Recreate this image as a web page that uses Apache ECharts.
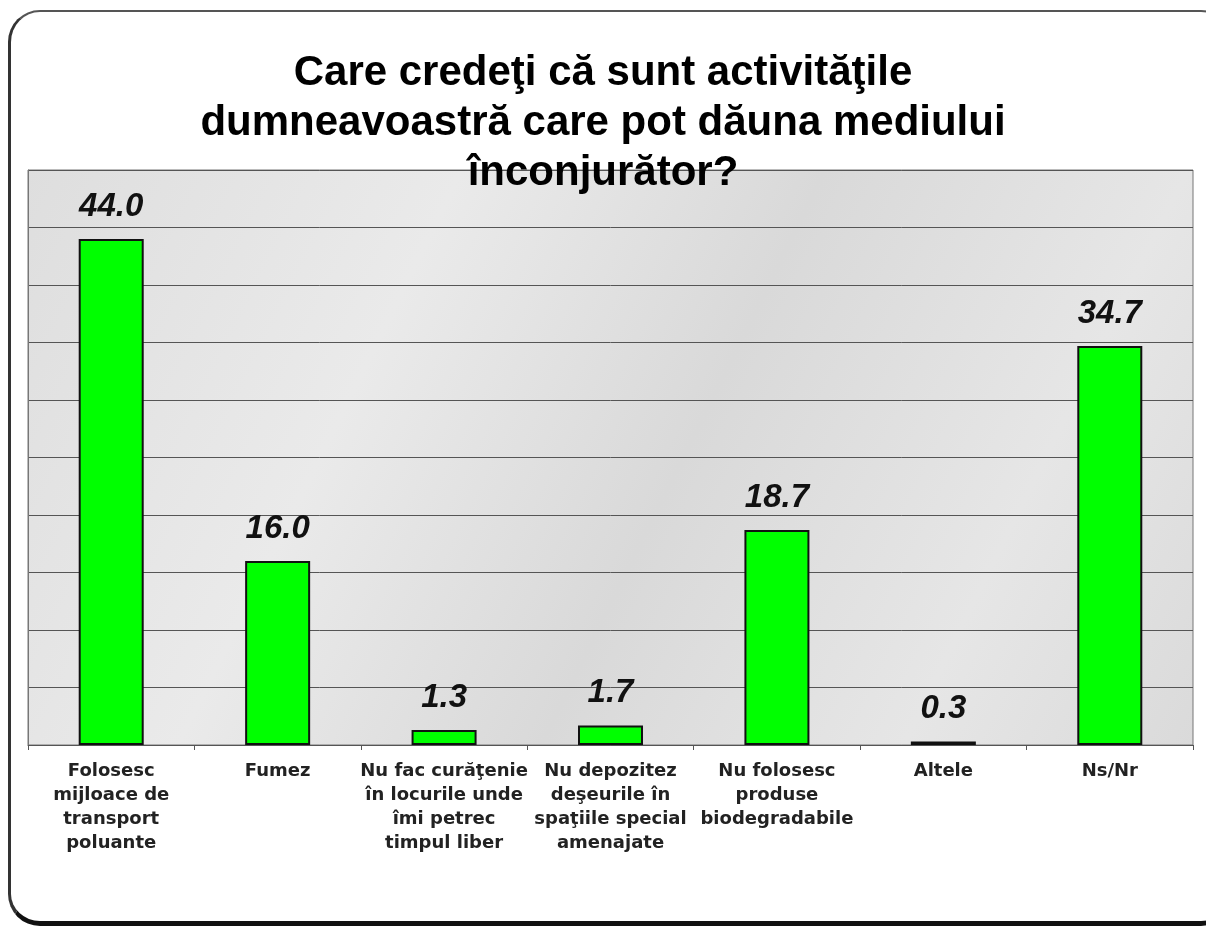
<!DOCTYPE html>
<html>
<head>
<meta charset="utf-8">
<script src="https://cdn.jsdelivr.net/npm/echarts@6/dist/echarts.min.js"></script>
<style>
  html, body { margin: 0; padding: 0; background: #fff; }
  #frame {
    position: absolute; left: 8px; top: 10px; width: 1220px; height: 909px;
    border: 2px solid #555; border-left: 3px solid #333; border-bottom: 5px solid #111;
    border-radius: 32px; background: #fff;
  }
  #chart { position: absolute; left: 0; top: 0; width: 1206px; height: 927px; }
</style>
</head>
<body>
<div id="frame"></div>
<div id="chart"></div>
<script>
// categorii si valori (%)
const categories = [
  'Folosesc\nmijloace de\ntransport\npoluante',
  'Fumez',
  'Nu fac curăţenie\nîn locurile unde\nîmi petrec\ntimpul liber',
  'Nu depozitez\ndeşeurile în\nspaţiile special\namenajate',
  'Nu folosesc\nproduse\nbiodegradabile',
  'Altele',
  'Ns/Nr'
];
const values = [44.0, 16.0, 1.3, 1.7, 18.7, 0.3, 34.7];
const titleText = 'Care credeţi că sunt activităţile\ndumneavoastră care pot dăuna mediului\nînconjurător?';

const chart = echarts.init(document.getElementById('chart'));
const option = {
  backgroundColor: 'transparent',
  title: {
    text: titleText,
    left: 'center',
    top: 43,
    textStyle: {
      fontFamily: 'Liberation Sans, Arial, sans-serif',
      fontSize: 42,
      fontWeight: 'bold',
      color: '#000',
      lineHeight: 50
    }
  },
  grid: {
    left: 28, right: 13, top: 170, bottom: 182,
    show: true,
    borderColor: '#777',
    borderWidth: 1,
    backgroundColor: new echarts.graphic.LinearGradient(0, 0, 1, 1, [
      {offset: 0, color: '#dedede'},
      {offset: 0.3, color: '#eaeaea'},
      {offset: 0.55, color: '#d9d9d9'},
      {offset: 0.8, color: '#e6e6e6'},
      {offset: 1, color: '#dadada'}
    ])
  },
  xAxis: {
    type: 'category',
    data: categories,
    axisLine: { lineStyle: { color: '#555', width: 1 } },
    axisTick: { show: true, length: 5, lineStyle: { color: '#555' } },
    axisLabel: {
      interval: 0,
      margin: 14,
      fontFamily: 'DejaVu Sans, Verdana, sans-serif',
      fontSize: 18,
      fontWeight: 'bold',
      color: '#222',
      lineHeight: 24
    }
  },
  yAxis: {
    type: 'value',
    min: 0,
    max: 50,
    interval: 5,
    axisLine: { show: true, lineStyle: { color: '#777' } },
    axisTick: { show: false },
    axisLabel: { show: false },
    splitLine: { lineStyle: { color: '#555', width: 1 } }
  },
  series: [{
    type: 'bar',
    data: values,
    barWidth: 65,
    itemStyle: { color: '#00ff00', borderColor: '#111', borderWidth: 2 },
    label: {
      show: true,
      position: 'top',
      distance: 16,
      formatter: p => p.value.toFixed(1),
      fontFamily: 'Liberation Sans, Arial, sans-serif',
      fontSize: 33,
      fontWeight: 'bold',
      fontStyle: 'italic',
      color: '#111'
    }
  }]
};
chart.setOption(option);
</script>
</body>
</html>
